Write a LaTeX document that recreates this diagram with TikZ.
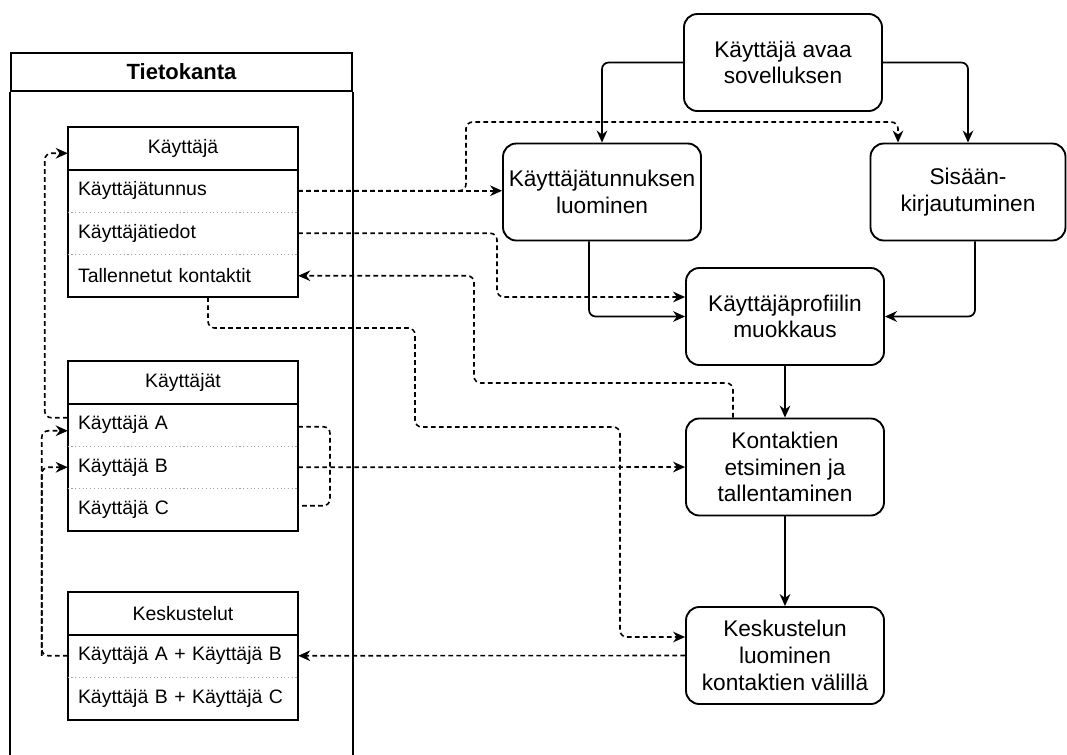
\documentclass[tikz,border=0pt]{standalone}
\usepackage{fontspec}
\setmainfont{Liberation Sans}
\usetikzlibrary{arrows.meta,calc}
\begin{document}
\begin{tikzpicture}[x=0.75pt,y=-0.75pt,
  box/.style={draw, line width=1.4pt, rounded corners=10pt, minimum width=148.5pt, minimum height=72.75pt, align=center, font=\fontsize{17}{20}\selectfont, inner sep=2pt},
  trow/.style={minimum width=172.5pt, minimum height=31.875pt, inner sep=0pt, text width=157.5pt, align=left, font=\fontsize{14.6}{17}\selectfont},
  thead/.style={minimum width=172.5pt, minimum height=31.875pt, inner sep=0pt, align=center, font=\fontsize{14.6}{17}\selectfont},
  flow/.style={line width=1.3pt, rounded corners=5pt, -{Stealth[length=9pt,width=8pt]}},
  link/.style={line width=1.2pt, rounded corners=5pt, dash pattern=on 3.5pt off 2.5pt},
  arr/.style={-{Stealth[length=9pt,width=8pt]}},
  sep/.style={gray!70, dotted, line width=0.8pt},
  frame/.style={line width=1.4pt}
]
\useasboundingbox (0,0) rectangle (1067,754);

% database container
\node[draw, frame, minimum width=255.75pt, minimum height=28.5pt, inner sep=0pt, font=\bfseries\fontsize{16.5}{20}\selectfont] (db) at (181.5,72) {Tietokanta};
\draw[frame] (db.south west) -- ++(0,670);
\draw[frame] (db.south east) -- ++(0,670);

% table Käyttäjä
\node[thead] (kh) at (183,148.25) {Käyttäjä};
\node[trow] (k1) at (183,190.75) {Käyttäjätunnus};
\node[trow] (k2) at (183,233.25) {Käyttäjätiedot};
\node[trow] (k3) at (183,275.75) {Tallennetut kontaktit};
\draw[frame] (kh.north west) rectangle (k3.south east);
\draw[frame] (kh.south west) -- (kh.south east);
\draw[sep] (k1.south west) -- (k1.south east);
\draw[sep] (k2.south west) -- (k2.south east);

% table Käyttäjät
\node[thead] (kah) at (183,382.25) {Käyttäjät};
\node[trow] (ka_a) at (183,424.75) {Käyttäjä A};
\node[trow] (ka_b) at (183,467.25) {Käyttäjä B};
\node[trow] (ka_c) at (183,509.75) {Käyttäjä C};
\draw[frame] (kah.north west) rectangle (ka_c.south east);
\draw[frame] (kah.south west) -- (kah.south east);
\draw[sep] (ka_a.south west) -- (ka_a.south east);
\draw[sep] (ka_b.south west) -- (ka_b.south east);

% table Keskustelut
\node[thead] (ksh) at (183,613.25) {Keskustelut};
\node[trow] (ks1) at (183,655.75) {Käyttäjä A + Käyttäjä B};
\node[trow] (ks2) at (183,698.25) {Käyttäjä B + Käyttäjä C};
\draw[frame] (ksh.north west) rectangle (ks2.south east);
\draw[frame] (ksh.south west) -- (ksh.south east);
\draw[sep] (ks1.south west) -- (ks1.south east);

% process boxes
\node[box] (avaa) at (783,62.5) {Käyttäjä avaa\\sovelluksen};
\node[box] (tun) at (602,192) {Käyttäjätunnuksen\\luominen};
\node[box, minimum width=146.25pt] (sis) at (968,192) {Sisään-\\kirjautuminen};
\node[box] (prof) at (785,316.5) {Käyttäjäprofiilin\\muokkaus};
\node[box] (kon) at (785,467) {Kontaktien\\etsiminen ja\\tallentaminen};
\node[box] (kes) at (785,655.5) {Keskustelun\\luominen\\kontaktien välillä};

% solid flow
\draw[flow] (avaa.west) -| (tun.north);
\draw[flow] (avaa.east) -| (sis.north);
\draw[flow] ($(tun.south)+(-13,0)$) |- (prof.west);
\draw[flow] ($(sis.south)+(7,0)$) |- (prof.east);
\draw[flow] (prof.south) -- (kon.north);
\draw[flow] (kon.south) -- (kes.north);

% dashed links
\coordinate (j1) at (466,122);
\coordinate (j2) at (497,297);
\coordinate (j3) at (474,383);
\draw[link, arr] (k1.east) -- (k1.east -| tun.west);
\draw[link, arr] (k1.east) -| (j1) -| ($(sis.north)+(-70,0)$);
\draw[link, arr] (k2.east) -| (j2) -- ($(prof.west)+(0,-19.5)$);
\draw[link, arr] ($(kon.north)+(-52,0)$) |- (j3) |- (k3.east);
\draw[link, arr] ($(k3.south)+(25,0)$) |- (415,328) |- (620,427) |- ($(kes.west)+(0,-18.5)$);
\draw[link, arr] (ka_b.east) -- (kon.west);
\draw[link] ($(ka_a.east)+(0,2)$) -| (330,467) |- ($(ka_c.east)+(0,-4)$);
\draw[link, arr] ($(ka_a.west)+(0,-7)$) -| ($(kh.west)+(-23,5)$) -- ($(kh.west)+(0,5)$);
\draw[link, arr] (ks1.west) -| ($(ka_a.west)+(-26,6)$) -- ($(ka_a.west)+(0,6)$);
\draw[link, arr] ($(ks1.west)+(-26,0)$) |- (ka_b.west);
\draw[link, arr] (kes.west) -- (ks1.east);
\end{tikzpicture}
\end{document}
